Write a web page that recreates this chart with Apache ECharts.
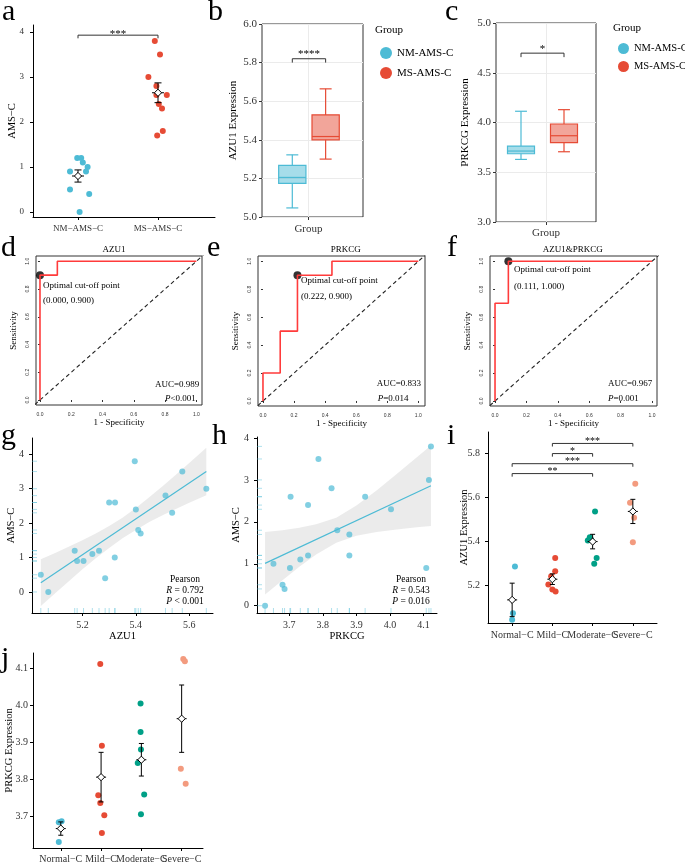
<!DOCTYPE html>
<html>
<head>
<meta charset="utf-8">
<title>AMS-C, AZU1 and PRKCG</title>
<script src="https://cdn.jsdelivr.net/npm/echarts@6/dist/echarts.min.js"></script>
<style>
  body { margin: 0; background: #fff; }
  #page { position: relative; width: 685px; height: 863px; overflow: hidden; background: #fff; }
  .panel { position: absolute; }
  .tag { position: absolute; z-index: 5; font-family: "Liberation Serif", serif; font-size: 30px; line-height: 30px; color: #000; }
</style>
</head>
<body>
<div id="page">
  <div id="chartA" class="panel" style="left:0;top:0;width:230px;height:240px"></div>
  <div id="chartB" class="panel" style="left:225px;top:0;width:235px;height:240px"></div>
  <div id="chartC" class="panel" style="left:455px;top:0;width:230px;height:240px"></div>
  <div id="chartD" class="panel" style="left:0;top:235px;width:230px;height:195px"></div>
  <div id="chartE" class="panel" style="left:225px;top:235px;width:230px;height:195px"></div>
  <div id="chartF" class="panel" style="left:455px;top:235px;width:230px;height:195px"></div>
  <div id="chartG" class="panel" style="left:0;top:420px;width:230px;height:225px"></div>
  <div id="chartH" class="panel" style="left:225px;top:420px;width:230px;height:225px"></div>
  <div id="chartI" class="panel" style="left:455px;top:420px;width:230px;height:225px"></div>
  <div id="chartJ" class="panel" style="left:0;top:620px;width:230px;height:243px"></div>

  <div class="tag" style="left:2px;top:-5px">a</div>
  <div class="tag" style="left:208px;top:-5px">b</div>
  <div class="tag" style="left:445px;top:-5px">c</div>
  <div class="tag" style="left:1px;top:231px">d</div>
  <div class="tag" style="left:207px;top:231px">e</div>
  <div class="tag" style="left:447px;top:231px">f</div>
  <div class="tag" style="left:1px;top:419px">g</div>
  <div class="tag" style="left:212px;top:419px">h</div>
  <div class="tag" style="left:447px;top:419px">i</div>
  <div class="tag" style="left:1px;top:642px">j</div>
</div>

<script>
var SERIF = '"Liberation Serif", "DejaVu Serif", serif';
var SANS = '"Liberation Sans", "DejaVu Sans", sans-serif';
var C_NM = '#4DBBD5', C_MS = '#E64B35', C_MOD = '#00A087', C_SEV = '#F39B7F';

// ---- a: AMS-C in the two groups ----
var groupsA = ['NM−AMS−C', 'MS−AMS−C'];
var amsNM = [1.2, 1.2, 1.1, 1.0, 0.9, 0.9, 0.5, 0.4, 0.0];
var jitterNM = [-0.01, 0.04, 0.06, 0.12, -0.10, 0.10, -0.10, 0.14, 0.02];
var amsMS = [3.8, 3.5, 3.0, 2.8, 2.6, 2.6, 2.4, 2.3, 1.8, 1.7];
var jitterMS = [-0.04, 0.025, -0.12, -0.02, 0.11, -0.02, 0.01, 0.05, 0.06, -0.01];
var meanA = [0.80, 2.65];
var seA = [0.135, 0.22];

// ---- b, c: boxes (min, q1, median, q3, max) ----
var legendGroups = ['NM-AMS-C', 'MS-AMS-C'];
var azu1BoxNM = [5.047, 5.174, 5.205, 5.267, 5.322];
var azu1BoxMS = [5.300, 5.400, 5.417, 5.529, 5.664];
var prkcgBoxNM = [3.629, 3.686, 3.713, 3.763, 4.113];
var prkcgBoxMS = [3.706, 3.797, 3.867, 3.985, 4.129];

// ---- d-f: ROC curves ----
var rocTicks = [0, 0.2, 0.4, 0.6, 0.8, 1.0];
var fprAZU1 = [0, 0, 0.111, 0.111, 1];
var tprAZU1 = [0, 0.9, 0.9, 1, 1];
var fprPRKCG = [0, 0, 0.111, 0.111, 0.222, 0.222, 0.444, 0.444, 1];
var tprPRKCG = [0, 0.2, 0.2, 0.5, 0.5, 0.9, 0.9, 1, 1];
var fprBoth = [0, 0, 0.085, 0.085, 1];
var tprBoth = [0, 0.7, 0.7, 1, 1];
var cutoffs = [[0.000, 0.900], [0.222, 0.900], [0.085, 1.000]];
var cutoffLabels = ['(0.000, 0.900)', '(0.222, 0.900)', '(0.111, 1.000)'];
var aucLabels = ['AUC=0.989', 'AUC=0.833', 'AUC=0.967'];
var pLabels = ['<0.001', '=0.014', '=0.001'];

// ---- g, h: correlation with AMS-C ----
var corrAZU1 = [5.044, 5.072, 5.171, 5.180, 5.204, 5.237, 5.262, 5.285, 5.321, 5.300, 5.322, 5.396, 5.400, 5.409, 5.418, 5.511, 5.536, 5.574, 5.664];
var corrAmsG = [0.5, 0.0, 1.2, 0.9, 0.9, 1.1, 1.2, 0.4, 1.0, 2.6, 2.6, 3.8, 2.4, 1.8, 1.7, 2.8, 2.3, 3.5, 3.0];
var fitXG = [5.044, 5.664], fitYG = [0.27, 3.50];
var bandXG = [5.044, 5.10, 5.15, 5.20, 5.25, 5.30, 5.35, 5.40, 5.45, 5.50, 5.55, 5.60, 5.664];
var bandHiG = [0.95, 1.14, 1.32, 1.50, 1.70, 1.92, 2.16, 2.44, 2.75, 3.07, 3.41, 3.75, 4.19];
var bandLoG = [-0.41, -0.02, 0.32, 0.66, 0.98, 1.28, 1.56, 1.80, 2.03, 2.23, 2.41, 2.59, 2.81];

var corrPRKCG = [3.628, 3.653, 3.680, 3.686, 3.702, 3.704, 3.733, 3.756, 3.756, 3.787, 3.826, 3.843, 3.879, 3.879, 3.926, 4.003, 4.108, 4.116, 4.122];
var corrAmsH = [0.0, 1.0, 0.5, 0.4, 0.9, 2.6, 1.1, 2.4, 1.2, 3.5, 2.8, 1.8, 1.7, 1.2, 2.6, 2.3, 0.9, 3.0, 3.8];
var fitXH = [3.628, 4.122], fitYH = [1.01, 2.86];
var bandXH = [3.628, 3.68, 3.73, 3.78, 3.84, 3.90, 3.96, 4.02, 4.08, 4.122];
var bandHiH = [1.76, 1.80, 1.86, 1.94, 2.10, 2.39, 2.75, 3.14, 3.54, 3.82];
var bandLoH = [0.27, 0.61, 0.93, 1.22, 1.50, 1.67, 1.76, 1.82, 1.87, 1.90];

// ---- i, j: by severity ----
var severity = ['Normal−C', 'Mild−C', 'Moderate−C', 'Severe−C'];
var sevColors = [C_NM, C_MS, C_MOD, C_SEV];
var azu1BySev = [
  [5.287, 5.074, 5.045],
  [5.325, 5.265, 5.242, 5.205, 5.182, 5.173],
  [5.537, 5.420, 5.410, 5.405, 5.325, 5.299],
  [5.663, 5.577, 5.508, 5.397]
];
var azu1Jitter = [
  [0.07, 0.02, 0],
  [0.07, 0.07, -0.03, -0.10, 0, 0.08],
  [0.06, -0.07, -0.04, -0.12, 0.10, 0.04],
  [0.06, -0.07, 0.03, 0]
];
var azu1Mean = [5.135, 5.229, 5.400, 5.537];
var azu1Se = [0.076, 0.024, 0.033, 0.055];
var sigPairsI = [[2, 4, '***'], [2, 3, '*'], [1, 4, '***'], [1, 3, '**']];

var prkcgBySev = [
  [3.683, 3.686, 3.630],
  [4.111, 3.890, 3.756, 3.735, 3.702, 3.654],
  [4.004, 3.927, 3.880, 3.843, 3.758, 3.705],
  [4.124, 4.118, 3.828, 3.787]
];
var prkcgJitter = [
  [-0.05, 0.02, -0.05],
  [-0.02, 0.02, -0.07, -0.02, 0.08, 0.02],
  [-0.02, -0.02, -0.01, -0.09, 0.07, -0.01],
  [0.04, 0.08, -0.02, 0.10]
];
var prkcgMean = [3.666, 3.805, 3.852, 3.963];
var prkcgSe = [0.018, 0.067, 0.044, 0.091];

// ---------- helpers ----------
function fixed1(v) { return v.toFixed(1); }
function sevName(v) { return severity[Math.round(v) - 1]; }

function text(x, y, str, size, align, rich) {
  var style = {
    text: str, font: size + 'px ' + SERIF, fill: '#000',
    textAlign: align, textVerticalAlign: 'middle', align: align, verticalAlign: 'middle'
  };
  if (rich) {
    style.rich = { i: { font: 'italic ' + size + 'px ' + SERIF, fill: '#000', lineHeight: rich } };
    style.lineHeight = rich;
  }
  return { type: 'text', x: x, y: y, silent: true, style: style };
}

function ggAxis(min, max, ticks, fmt, fontSize, margin, name, nameGap) {
  return {
    type: 'value', min: min, max: max,
    name: name || '', nameLocation: 'middle', nameGap: nameGap || 0, nameMoveOverlap: false,
    nameTextStyle: { fontFamily: SERIF, fontSize: 10.5, color: '#000' },
    axisLine: { show: true, onZero: false, lineStyle: { color: '#000', width: 1 } },
    axisTick: { show: true, length: 3, customValues: ticks, lineStyle: { color: '#000', width: 1 } },
    axisLabel: { customValues: ticks, formatter: fmt, margin: margin, fontFamily: SERIF, fontSize: fontSize, color: '#333',
      hideOverlap: false, showMinLabel: true, showMaxLabel: true },
    splitLine: { show: false }
  };
}

// the four severity names overlap in the original; two label-only axes keep all of them
function sevAxes(xr, margin) {
  var main = ggAxis(xr[0], xr[1], [1, 2, 3, 4], sevName, 10, margin);
  main.position = 'bottom';
  main.axisLabel.customValues = [1, 3];
  var extra = ggAxis(xr[0], xr[1], [2, 4], sevName, 10, margin);
  extra.position = 'bottom';
  extra.axisLine.show = false;
  extra.axisTick.show = false;
  return [main, extra];
}

function jitterScatter(values, jitter, center, color) {
  return {
    type: 'scatter', symbolSize: 6, silent: true,
    itemStyle: { color: color, opacity: 1 },
    data: values.map(function (v, i) { return [center + jitter[i], v]; })
  };
}

function meanSeSeries(means, ses, capW, barW) {
  return {
    type: 'custom', silent: true, z: 5,
    data: means.map(function (m, i) { return [i + 1, m, ses[i]]; }),
    renderItem: function (params, api) {
      var x = api.value(0), m = api.value(1), s = api.value(2);
      var top = api.coord([x, m + s]), bot = api.coord([x, m - s]), c = api.coord([x, m]);
      var st = { stroke: '#000', lineWidth: 1 };
      var d = 3.6;
      return { type: 'group', children: [
        { type: 'line', shape: { x1: top[0], y1: top[1], x2: bot[0], y2: bot[1] }, style: st },
        { type: 'line', shape: { x1: top[0] - capW / 2, y1: top[1], x2: top[0] + capW / 2, y2: top[1] }, style: st },
        { type: 'line', shape: { x1: bot[0] - capW / 2, y1: bot[1], x2: bot[0] + capW / 2, y2: bot[1] }, style: st },
        { type: 'line', shape: { x1: c[0] - barW / 2, y1: c[1], x2: c[0] + barW / 2, y2: c[1] }, style: st },
        { type: 'polygon', shape: { points: [[c[0], c[1] - d], [c[0] + d, c[1]], [c[0], c[1] + d], [c[0] - d, c[1]]] },
          style: { fill: '#fff', stroke: '#000', lineWidth: 1 } }
      ] };
    }
  };
}

// brackets: [fromX, toX, y], labels kept apart
function bracketSeries(pairs, labels, tip, gap, fontSize) {
  return {
    type: 'custom', silent: true, z: 6,
    encode: { x: [0, 1], y: 2 },
    data: pairs,
    renderItem: function (params, api) {
      var y = api.value(2);
      var p1 = api.coord([api.value(0), y - tip]);
      var p2 = api.coord([api.value(0), y]);
      var p3 = api.coord([api.value(1), y]);
      var p4 = api.coord([api.value(1), y - tip]);
      var t = text((p2[0] + p3[0]) / 2, p2[1] - gap, labels[params.dataIndex], fontSize, 'center');
      return { type: 'group', children: [
        { type: 'polyline', shape: { points: [p1, p2, p3, p4] }, style: { stroke: '#333', fill: null, lineWidth: 1 } },
        t
      ] };
    }
  };
}

function boxSeries(name, stats, center, half, stroke, fill) {
  return {
    type: 'custom', name: name, silent: true,
    itemStyle: { color: stroke },
    encode: { x: 0, y: [1, 2, 3, 4, 5] },
    data: [[center].concat(stats)],
    renderItem: function (params, api) {
      var x = api.value(0);
      var lt = api.coord([x - half, api.value(4)]);
      var rb = api.coord([x + half, api.value(2)]);
      var med = api.coord([x, api.value(3)]);
      var lo = api.coord([x, api.value(1)]);
      var hi = api.coord([x, api.value(5)]);
      var cap = (rb[0] - lt[0]) * 0.22;
      var st = { stroke: stroke, lineWidth: 1.2, fill: null };
      return { type: 'group', children: [
        { type: 'line', shape: { x1: hi[0], y1: hi[1], x2: hi[0], y2: lt[1] }, style: st },
        { type: 'line', shape: { x1: lo[0], y1: lo[1], x2: lo[0], y2: rb[1] }, style: st },
        { type: 'line', shape: { x1: hi[0] - cap, y1: hi[1], x2: hi[0] + cap, y2: hi[1] }, style: st },
        { type: 'line', shape: { x1: lo[0] - cap, y1: lo[1], x2: lo[0] + cap, y2: lo[1] }, style: st },
        { type: 'rect', shape: { x: lt[0], y: lt[1], width: rb[0] - lt[0], height: rb[1] - lt[1] },
          style: { fill: fill, stroke: stroke, lineWidth: 1.2 } },
        { type: 'line', shape: { x1: lt[0], y1: med[1], x2: rb[0], y2: med[1] }, style: st }
      ] };
    }
  };
}

function bandSeries(xs, lo, hi) {
  return {
    type: 'custom', silent: true, z: 1,
    encode: { x: 0, y: [1, 2] },
    data: xs.map(function (x, i) { return [x, lo[i], hi[i]]; }),
    renderItem: function (params, api) {
      if (params.dataIndex !== 0) return null;
      var pts = [];
      for (var i = 0; i < xs.length; i++) pts.push(api.coord([xs[i], hi[i]]));
      for (var j = xs.length - 1; j >= 0; j--) pts.push(api.coord([xs[j], lo[j]]));
      return { type: 'polygon', shape: { points: pts }, style: { fill: 'rgba(153,153,153,0.2)' } };
    }
  };
}

function rugSeries(xs, ys, color) {
  return {
    type: 'custom', silent: true, z: 2,
    data: xs.map(function (x, i) { return [x, ys[i]]; }),
    renderItem: function (params, api) {
      var cs = params.coordSys;
      var p = api.coord([api.value(0), api.value(1)]);
      var st = { stroke: color, lineWidth: 1, opacity: 0.45 };
      var bottom = cs.y + cs.height;
      return { type: 'group', children: [
        { type: 'line', shape: { x1: p[0], y1: bottom, x2: p[0], y2: bottom - 5 }, style: st },
        { type: 'line', shape: { x1: cs.x, y1: p[1], x2: cs.x + 5, y2: p[1] }, style: st }
      ] };
    }
  };
}

// ---------- panels ----------
function drawA() {
  var chart = echarts.init(document.getElementById('chartA'));
  chart.setOption({
    animation: false,
    grid: { left: 33, top: 25, width: 182, height: 192, outerBoundsMode: 'none' },
    xAxis: ggAxis(0.4375, 2.7125, [1, 2], function (v) { return groupsA[Math.round(v) - 1]; }, 9, 7),
    yAxis: ggAxis(-0.111, 4.156, [0, 1, 2, 3, 4], String, 9, 9, 'AMS−C', 15),
    series: [
      jitterScatter(amsNM, jitterNM, 1, C_NM),
      jitterScatter(amsMS, jitterMS, 2, C_MS),
      meanSeSeries(meanA, seA, 7, 12),
      bracketSeries([[1, 2, 3.93]], ['***'], 0.07, 1.2, 11)
    ]
  });
}

function drawBox(id, yName, yMin, yMax, yStep, nm, ms, L) {
  var chart = echarts.init(document.getElementById(id));
  chart.setOption({
    animation: false,
    grid: { left: L.grid[0], top: L.grid[1], width: L.grid[2], height: L.grid[3],
      show: true, borderColor: '#333', borderWidth: 1, outerBoundsMode: 'none' },
    legend: {
      data: legendGroups, orient: 'vertical', left: L.legend[0], top: L.legend[1],
      itemWidth: L.legend[3], itemHeight: L.legend[3], itemGap: L.legend[2], icon: 'circle', selectedMode: false,
      textStyle: { fontFamily: SERIF, fontSize: L.legend[4], color: '#000' }
    },
    graphic: [text(L.legend[0], L.legendTitle, 'Group', 11, 'left')],
    xAxis: {
      type: 'value', min: 0, max: 1,
      axisLine: { show: false },
      axisTick: { show: true, length: 3, customValues: [L.tick], lineStyle: { color: '#333' } },
      axisLabel: { customValues: [L.tick], formatter: function () { return 'Group'; }, margin: L.xMargin,
        fontFamily: SERIF, fontSize: 11, color: '#333' },
      splitLine: { show: true, lineStyle: { color: '#ebebeb', width: 1 } }
    },
    yAxis: {
      type: 'value', min: yMin, max: yMax, interval: yStep,
      name: yName, nameLocation: 'middle', nameGap: L.nameGap, nameMoveOverlap: false,
      nameTextStyle: { fontFamily: SERIF, fontSize: 11, color: '#000' },
      axisLine: { show: false },
      axisTick: { show: true, length: 3, lineStyle: { color: '#333' } },
      axisLabel: { formatter: fixed1, margin: 5, fontFamily: SERIF, fontSize: 11, color: '#333' },
      splitLine: { show: true, lineStyle: { color: '#ebebeb', width: 1 } }
    },
    series: [
      boxSeries(legendGroups[0], nm, L.centers[0], 0.135, C_NM, 'rgba(77,187,213,0.5)'),
      boxSeries(legendGroups[1], ms, L.centers[1], 0.135, C_MS, 'rgba(230,75,53,0.5)'),
      bracketSeries([[L.centers[0], L.centers[1], L.sig[0]]], [L.sig[2]], L.sig[1], L.sig[3], 11)
    ]
  });
}

function rocAxis(range, margin, name, nameGap, rotate) {
  return {
    type: 'value', min: range[0], max: range[1],
    name: name, nameLocation: 'middle', nameGap: nameGap, nameMoveOverlap: false,
    nameTextStyle: { fontFamily: SERIF, fontSize: 9, color: '#000' },
    axisLine: { show: false },
    axisTick: { show: true, length: 2, customValues: rocTicks, lineStyle: { color: '#333' } },
    axisLabel: { customValues: rocTicks, formatter: fixed1, margin: margin, rotate: rotate,
      fontFamily: SANS, fontSize: 5, color: '#333' },
    splitLine: { show: false }
  };
}

function drawRoc(id, k, title, fpr, tpr, L) {
  var chart = echarts.init(document.getElementById(id));
  chart.setOption({
    animation: false,
    grid: { left: L.grid[0], top: L.grid[1], width: L.grid[2], height: L.grid[3],
      show: true, borderColor: '#333', borderWidth: 1, outerBoundsMode: 'none' },
    xAxis: rocAxis(L.x, 7, '1 - Specificity', 13, 0),
    yAxis: rocAxis([-0.036, 1.038], 5.5, 'Sensitivity', 18, 90),
    graphic: [
      text(L.title, 15, title, 9, 'center'),
      text(L.opt[0], L.opt[1], 'Optimal cut-off point', 9, 'left'),
      text(L.opt[0], L.opt[2], cutoffLabels[k], 9, 'left'),
      text(L.auc[0], L.auc[1], aucLabels[k], 9, 'left'),
      text(L.p[0], L.p[1], '{i|P}' + pLabels[k], 9, 'left', 11)
    ],
    series: [
      { type: 'line', data: [[-0.1, -0.1], [1.1, 1.1]], symbol: 'none', silent: true, clip: true,
        lineStyle: { color: '#222', width: 1.1, type: [4, 3] } },
      { type: 'line', data: fpr.map(function (f, i) { return [f, tpr[i]]; }), symbol: 'none', silent: true,
        lineStyle: { color: '#ff3b3b', width: 1.6 } },
      { type: 'scatter', data: [cutoffs[k]], symbolSize: 8, silent: true, itemStyle: { color: '#000' } }
    ]
  });
}

function drawCorr(id, xs, ys, fitX, fitY, bx, blo, bhi, xr, yr, xTicks, grid, xName, label, labelX) {
  var chart = echarts.init(document.getElementById(id));
  chart.setOption({
    animation: false,
    grid: { left: grid[0], top: grid[1], width: grid[2], height: grid[3], outerBoundsMode: 'none' },
    xAxis: ggAxis(xr[0], xr[1], xTicks, fixed1, 10, 7, xName, 18),
    yAxis: ggAxis(yr[0], yr[1], [0, 1, 2, 3, 4], String, 10, 8, 'AMS−C', 15),
    graphic: [text(labelX, 170.5, label, 9.5, 'center', 11)],
    series: [
      bandSeries(bx, blo, bhi),
      rugSeries(xs, ys, C_NM),
      { type: 'scatter', symbolSize: 6, silent: true, itemStyle: { color: C_NM, opacity: 0.7 },
        data: xs.map(function (x, i) { return [x, ys[i]]; }) },
      { type: 'line', symbol: 'none', silent: true, lineStyle: { color: C_NM, width: 1.2 },
        data: fitX.map(function (x, i) { return [x, fitY[i]]; }) }
    ]
  });
}

function drawSeverity(id, values, jitter, mean, se, yName, yr, yTicks, grid, xr, xMargin, yMargin, brackets) {
  var chart = echarts.init(document.getElementById(id));
  var series = values.map(function (vals, g) { return jitterScatter(vals, jitter[g], g + 1, sevColors[g]); });
  series.push(meanSeSeries(mean, se, 5, 10));
  if (brackets) series.push(brackets);
  chart.setOption({
    animation: false,
    grid: { left: grid[0], top: grid[1], width: grid[2], height: grid[3], outerBoundsMode: 'none' },
    xAxis: sevAxes(xr, xMargin),
    yAxis: ggAxis(yr[0], yr[1], yTicks, fixed1, 10, yMargin, yName, 18),
    series: series
  });
}

drawA();
drawBox('chartB', 'AZU1 Expression', 5, 6, 0.2, azu1BoxNM, azu1BoxMS, {
  grid: [37, 24, 101, 193], legend: [150, 42, 8, 12, 11], legendTitle: 30, tick: 0.46, xMargin: 7,
  nameGap: 23, centers: [0.30, 0.63], sig: [5.82, 0.02, '****', 4.8]
});
drawBox('chartC', 'PRKCG Expression', 3, 5, 0.5, prkcgBoxNM, prkcgBoxMS, {
  grid: [41, 23, 100, 199], legend: [158, 38, 7, 11, 10.5], legendTitle: 28, tick: 0.5, xMargin: 6,
  nameGap: 25, centers: [0.25, 0.68], sig: [4.697, 0.04, '*', 4.4]
});
drawRoc('chartD', 0, 'AZU1', fprAZU1, tprAZU1, {
  grid: [36, 21, 166, 149], x: [-0.0255, 1.036], title: 114, opt: [43, 51, 65.7], auc: [155, 150], p: [165, 164]
});
drawRoc('chartE', 1, 'PRKCG', fprPRKCG, tprPRKCG, {
  grid: [33, 21, 167, 150], x: [-0.032, 1.043], title: 120.7, opt: [76, 46, 61.7], auc: [151.7, 149], p: [152.7, 164]
});
drawRoc('chartF', 2, 'AZU1&PRKCG', fprBoth, tprBoth, {
  grid: [35, 21, 167, 150], x: [-0.032, 1.032], title: 117.8, opt: [59, 35, 51.7], auc: [153, 149], p: [153, 164]
});
drawCorr('chartG', corrAZU1, corrAmsG, fitXG, fitYG, bandXG, bandLoG, bandHiG,
  [5.011, 5.689], [-0.612, 4.475], [5.2, 5.4, 5.6], [32, 18, 181, 175], 'AZU1',
  'Pearson\n{i|R} = 0.792\n{i|P} < 0.001', 185);
drawCorr('chartH', corrPRKCG, corrAmsH, fitXH, fitYH, bandXH, bandLoH, bandHiH,
  [3.604, 4.14], [-0.174, 4.024], [3.7, 3.8, 3.9, 4.0, 4.1], [32, 17, 180, 176], 'PRKCG',
  'Pearson\n{i|R} = 0.543\n{i|P} = 0.016', 186);
drawSeverity('chartI', azu1BySev, azu1Jitter, azu1Mean, azu1Se, 'AZU1 Expression',
  [5.03, 5.898], [5.2, 5.4, 5.6, 5.8], [33, 12, 169, 191], [0.4, 4.6], 7.5, 8,
  bracketSeries(sigPairsI.map(function (s, i) { return [s[0], s[1], [5.846, 5.80, 5.754, 5.709][i]]; }),
    sigPairsI.map(function (s) { return s[2]; }), 0.014, 2, 10));
drawSeverity('chartJ', prkcgBySev, prkcgJitter, prkcgMean, prkcgSe, 'PRKCG Expression',
  [3.6135, 4.1405], [3.7, 3.8, 3.9, 4.0, 4.1], [33, 33, 170, 195], [0.31, 4.53], 6, 5, null);
</script>
</body>
</html>
